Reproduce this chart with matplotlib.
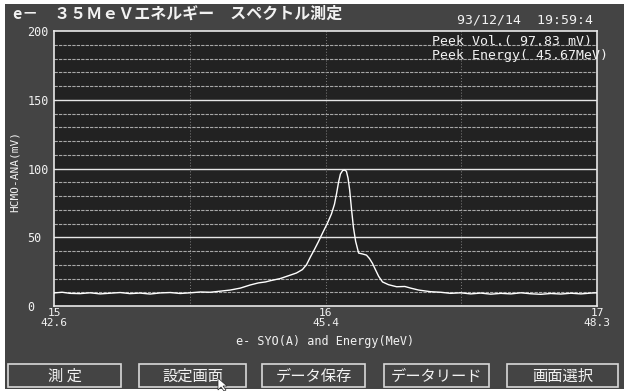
"""Recreation of an old e- 35MeV energy spectrum measurement screen."""
import matplotlib
matplotlib.use("Agg")
import matplotlib.pyplot as plt
from matplotlib.patches import Rectangle, Polygon

W, H = 630, 391

# data: SYO current (A) vs HCHO-ANA voltage (mV)
syo = [15.000, 15.030, 15.059, 15.096, 15.133, 15.170, 15.207, 15.244, 15.280,
       15.317, 15.354, 15.391, 15.428, 15.465, 15.502, 15.539, 15.576, 15.613,
       15.649, 15.686, 15.723, 15.753, 15.779, 15.797, 15.834, 15.871, 15.893,
       15.915, 15.930, 15.945, 15.959, 15.974, 15.989, 16.007, 16.022, 16.033,
       16.041, 16.048, 16.055, 16.063, 16.070, 16.077, 16.083, 16.089, 16.096,
       16.103, 16.111, 16.122, 16.137, 16.151, 16.162, 16.173, 16.185, 16.196,
       16.210, 16.232, 16.262, 16.292, 16.314, 16.343, 16.387, 16.424, 16.461,
       16.498, 16.535, 16.572, 16.609, 16.646, 16.683, 16.720, 16.756, 16.793,
       16.830, 16.867, 16.904, 16.941, 16.978, 17.000]
volt = [9.5, 10.0, 9.2, 9.0, 9.6, 8.8, 9.3, 9.8, 9.0,
        9.4, 8.7, 9.5, 9.8, 9.1, 9.6, 10.2, 10.0, 10.8,
        11.6, 13.0, 15.3, 16.8, 17.5, 18.4, 20.0, 22.5, 24.0,
        26.5, 30.0, 35.9, 41.0, 46.8, 53.0, 60.2, 67.0, 74.0,
        82.0, 90.0, 96.0, 98.5, 98.9, 98.0, 93.0, 84.4, 70.0,
        57.0, 47.0, 38.5, 37.8, 37.0, 34.5, 31.0, 26.0, 21.5,
        17.5, 15.5, 14.0, 14.2, 13.0, 11.6, 10.4, 10.0, 9.2,
        9.6, 8.8, 9.4, 8.6, 9.2, 8.8, 9.6, 8.9, 8.5,
        9.1, 8.7, 9.3, 8.8, 9.4, 9.6]

x_ticks = [15, 16, 17]
energy_labels = ["42.6", "45.4", "48.3"]
y_ticks = [0, 50, 100, 150, 200]
buttons = ["測 定", "設定画面", "データ保存", "データリード", "画面選択"]
button_spans = [(8, 121), (139, 246), (262, 365), (384, 489), (507, 618)]

JP = ["Noto Sans CJK JP", "DejaVu Sans"]
MONO = "DejaVu Sans Mono"
FG = "#f2f2f2"


def fx(px):
    return px / W


def fy(py):
    return 1 - py / H


fig = plt.figure(figsize=(W / 100, H / 100), dpi=100)
fig.patch.set_facecolor("white")

# screen background
fig.patches.append(Rectangle((fx(5), fy(389)), fx(624) - fx(5), fy(4) - fy(389),
                             transform=fig.transFigure, facecolor="#444444",
                             edgecolor="none", zorder=-5))

left, right, top, bottom = 54, 597, 31, 306
ax = fig.add_axes([fx(left), fy(bottom), fx(right) - fx(left), fy(top) - fy(bottom)])
ax.set_zorder(1)
ax.set_facecolor("#222222")
ax.set_xlim(15, 17)
ax.set_ylim(0, 200)

# grid: every 10 mV, brighter every 50
for v in range(10, 200, 10):
    if v % 50 == 0:
        ax.axhline(v, color="#e6e6e6", lw=1.0, zorder=1)
    else:
        ax.axhline(v, color="#a8a8a8", lw=0.8, ls=(0, (3, 1)), zorder=1)
for xv in [15.5, 16, 16.5]:
    ax.axvline(xv, color="#808080", lw=0.7, ls=(0, (1, 2)), zorder=1)

ax.plot(syo, volt, color="white", lw=1.0, zorder=3)

for s in ax.spines.values():
    s.set_color("#e8e8e8")
    s.set_linewidth(1.2)

ax.set_yticks(y_ticks)
ax.set_yticklabels([str(v) for v in y_ticks], fontsize=8.5, family=MONO, color=FG,
                   ha="left")
ax.tick_params(axis="y", length=0, pad=19)
ax.set_xticks(x_ticks)
ax.set_xticklabels([f"{t}\n{e}" for t, e in zip(x_ticks, energy_labels)],
                   fontsize=8, family=MONO, color=FG, linespacing=0.95)
ax.tick_params(axis="x", length=0, pad=1.5)

# axis titles
fig.text(fx(15), fy(172), "HCMO-ANA(mV)", rotation=90, ha="center", va="center",
         fontsize=8, family=MONO, color=FG)
fig.text(fx(325), fy(341), "e- SYO(A) and Energy(MeV)", ha="center", va="center",
         fontsize=8.5, family=MONO, color=FG)

# header
fig.text(fx(13), fy(14), "e－　３５ＭｅＶエネルギー　スペクトル測定", ha="left",
         va="center", fontsize=11.5, family=JP, weight="bold", color=FG)
fig.text(fx(457), fy(20), "93/12/14  19:59:4", ha="left", va="center",
         fontsize=9.5, family=MONO, color=FG, zorder=3)
fig.text(fx(432), fy(42), "Peek Vol.( 97.83 mV)", ha="left", va="center",
         fontsize=9.5, family=MONO, color=FG, zorder=3)
fig.text(fx(432), fy(55), "Peek Energy( 45.67MeV)", ha="left", va="center",
         fontsize=9.5, family=MONO, color=FG, zorder=3)

# buttons
for label, (x0, x1) in zip(buttons, button_spans):
    fig.patches.append(Rectangle((fx(x0), fy(387)), fx(x1) - fx(x0), fy(364) - fy(387),
                                 transform=fig.transFigure, facecolor="none",
                                 edgecolor="#d8d8d8", lw=1.2, zorder=2))
    fig.text(fx((x0 + x1) / 2), fy(376), label, ha="center", va="center",
             fontsize=11, family=JP, color=FG)

# mouse pointer over the settings button
cursor = [(218, 378), (218, 390), (221, 387), (224, 391), (226, 390), (223, 386), (227, 386)]
fig.patches.append(Polygon([(fx(a), fy(b)) for a, b in cursor], closed=True,
                           transform=fig.transFigure, facecolor="white",
                           edgecolor="#222222", lw=0.5, zorder=4))

fig.savefig("out.png", dpi=100)
